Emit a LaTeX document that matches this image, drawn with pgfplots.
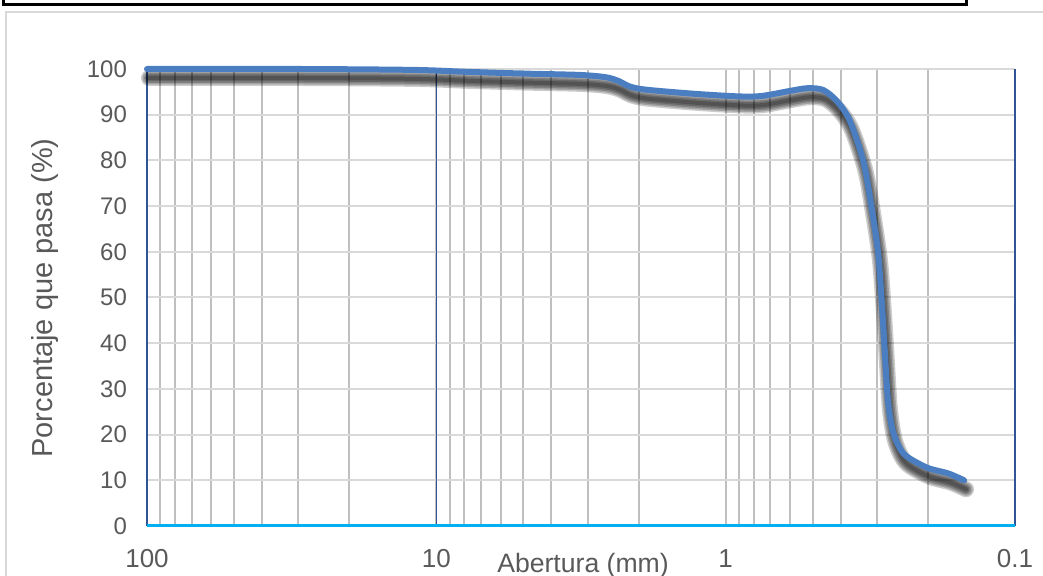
\documentclass[border=0pt]{standalone}
\usepackage{fontspec}
\setmainfont{Liberation Sans}
\usepackage{pgfplots}
\pgfplotsset{compat=1.18}

\definecolor{curveblue}{RGB}{74,126,193}
\definecolor{axisblue}{RGB}{47,85,151}
\definecolor{basecyan}{RGB}{0,176,240}
\definecolor{vgrid}{RGB}{191,191,191}
\definecolor{hgrid}{RGB}{217,217,217}
\definecolor{framegray}{RGB}{217,217,217}
\definecolor{labelgray}{RGB}{89,89,89}

% Curva granulométrica: abertura (mm), porcentaje que pasa (%)
\pgfplotstableread{
x      y
100    100
30     100
12     99.8
8      99.4
5      99.0
3.2    98.7
2.6    98.2
2.35   97.4
2.15   96.2
1.9    95.5
1.3    94.6
0.9    94.0
0.75   94.1
0.6    95.2
0.52   95.8
0.46   95.4
0.413  93.0
0.373  88.8
0.335  80.0
0.316  71.3
0.298  60.4
0.289  49.5
0.282  38.5
0.275  27.6
0.265  21.0
0.25   17.0
0.234  15.0
0.2    12.7
0.17   11.5
0.15   10.0
}\granulo

\pgfplotsset{
  shadowline/.style={smooth, tension=0.5, black, opacity=0.2, line width=#1,
                     xshift=1pt, yshift=-4.5pt, line cap=round},
}

\begin{document}
\begin{tikzpicture}
\useasboundingbox (0,0) rectangle (521.5pt,288pt);
% marco exterior del gráfico
\draw[line width=1pt, framegray] (3pt,-10pt) -- (3pt,282pt) -- (540pt,282pt);
% recuadro del título
\draw[line width=1.5pt, black] (1.5pt,300pt) -- (1.5pt,285.5pt) -- (483pt,285.5pt) -- (483pt,300pt);

\begin{axis}[
  at={(73.5pt,25pt)}, anchor=south west,
  scale only axis, width=434pt, height=228.5pt,
  xmode=log, x dir=reverse,
  xmin=0.1, xmax=100, ymin=0, ymax=100,
  xtick={0.1,1,10,100}, xticklabels={0.1,1,10,100},
  ytick={0,10,...,100},
  /pgf/number format/assume math mode=true,
  major tick length=0pt, minor tick length=0pt,
  xmajorgrids, xminorgrids, ymajorgrids,
  major x grid style={draw=vgrid, line width=1pt},
  minor x grid style={draw=vgrid, line width=1pt},
  major y grid style={draw=hgrid, line width=1pt},
  axis line style={draw=none},
  tick label style={text=labelgray},
  yticklabel style={font=\fontsize{12}{14}\selectfont, anchor=east, xshift=-6.5pt},
  xticklabel style={font=\fontsize{13}{15}\selectfont, anchor=center, yshift=-16.5pt},
  clip=false,
]
\draw[axisblue, line width=0.75pt] (axis cs:10,0) -- (axis cs:10,100);
\draw[axisblue, line width=0.75pt] (rel axis cs:0,0) -- (rel axis cs:0,1);
\draw[axisblue, line width=0.75pt] (rel axis cs:1,0) -- (rel axis cs:1,1);
\draw[basecyan, line width=1.5pt] (rel axis cs:0,0) -- (rel axis cs:1,0);
% sombra difusa bajo la curva
\addplot[shadowline=8pt]   table[x=x,y=y]{\granulo};
\addplot[shadowline=6.5pt] table[x=x,y=y]{\granulo};
\addplot[shadowline=5pt]   table[x=x,y=y]{\granulo};
\addplot[shadowline=3.5pt] table[x=x,y=y]{\granulo};
\addplot[shadowline=2pt]   table[x=x,y=y]{\granulo};
% curva
\addplot[smooth, tension=0.5, curveblue, line width=3pt, line cap=round] table[x=x,y=y]{\granulo};
\end{axis}

\node[anchor=base, text=labelgray, font=\fontsize{13.3}{15}\selectfont] at (291.5pt,1.5pt) {Abertura (mm)};
\node[rotate=90, text=labelgray, font=\fontsize{14.5}{16}\selectfont] at (22.5pt,139pt) {Porcentaje que pasa (\%)};
\end{tikzpicture}
\end{document}
